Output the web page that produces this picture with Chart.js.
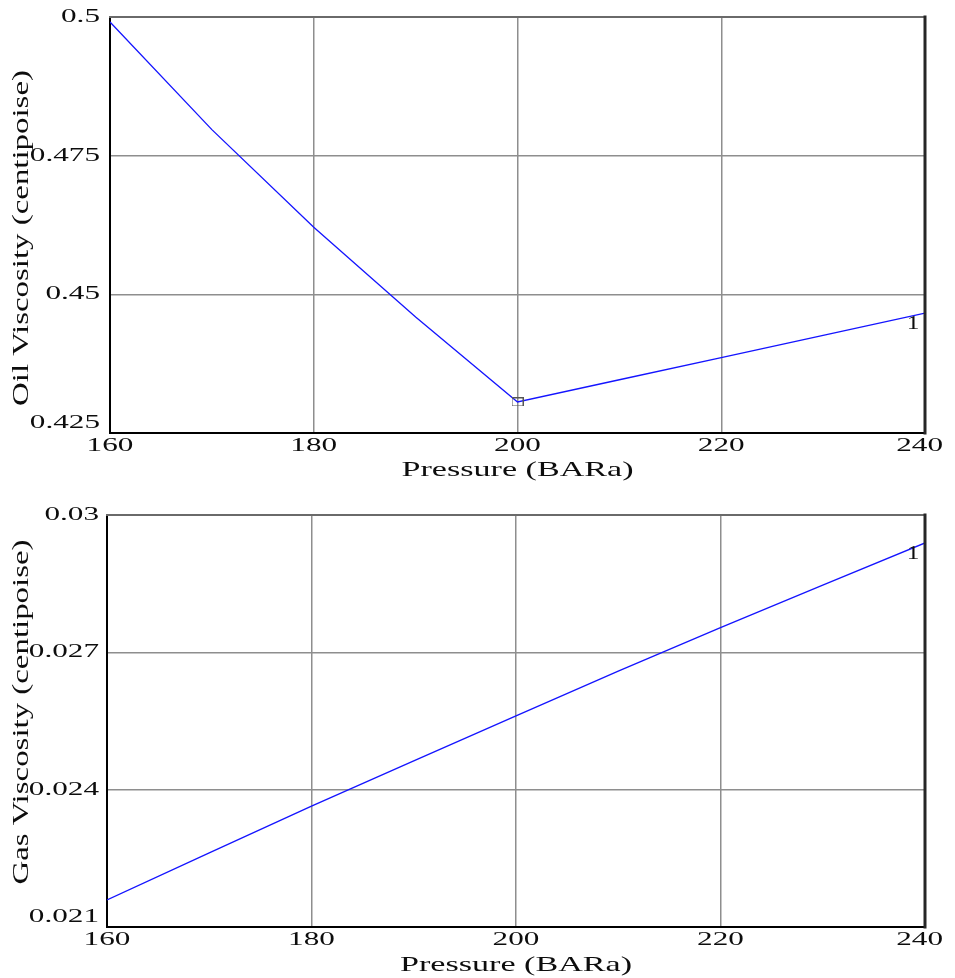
<!DOCTYPE html>
<html>
<head>
<meta charset="utf-8">
<title>Oil and gas viscosity vs pressure</title>
<script src="https://cdn.jsdelivr.net/npm/chart.js@4"></script>
<style>
  html, body { margin: 0; padding: 0; background: #ffffff; }
  .panel { position: relative; width: 955px; }
  #oilPanel { height: 490px; }
  #gasPanel { height: 488px; }
  canvas { display: block; }
</style>
</head>
<body>
<div class="panel" id="oilPanel"><canvas id="oilChart"></canvas></div>
<div class="panel" id="gasPanel"><canvas id="gasChart"></canvas></div>
<script>
// Pressure sweep (BARa)
const pressure = [160, 170, 180, 190, 200, 210, 220, 230, 240];
// Oil viscosity (cP) at each pressure
const oilViscosity = [0.4991, 0.4797, 0.4621, 0.4459, 0.4306, 0.4346, 0.4386, 0.4426, 0.4466];
// Gas viscosity (cP) at each pressure
const gasViscosity = [0.02159, 0.02262, 0.02364, 0.02463, 0.02561, 0.02659, 0.02754, 0.02847, 0.02939];

// Axis ticks
const pressureTicks = [160, 180, 200, 220, 240];
const pressureTickLabels = ['160', '180', '200', '220', '240'];
const oilTicks = [0.425, 0.45, 0.475, 0.5];
const oilTickLabels = ['0.425', '0.45', '0.475', '0.5'];
const gasTicks = [0.021, 0.024, 0.027, 0.03];
const gasTickLabels = ['0.021', '0.024', '0.027', '0.03'];

// Bubble-point marker on the oil curve, and the curve tag
const markerPressure = 200;
const curveTag = '1';

const SERIF = '"Liberation Serif", "Times New Roman", serif';
const GRID = '#8e8e8e';
const LINE_BLUE = '#1414ff';

// small open square used as the point marker
function makeSquare() {
  const c = document.createElement('canvas');
  c.width = 12; c.height = 9;
  const g = c.getContext('2d');
  g.strokeStyle = '#555555';
  g.lineWidth = 1;
  g.strokeRect(0.5, 0.5, 11, 8);
  return c;
}
const squareMarker = makeSquare();

// wide-set text: glyphs widened along the baseline
function wideText(ctx, str, x, y, size, widen, align, rotate) {
  ctx.save();
  ctx.translate(x, y);
  if (rotate) ctx.rotate(-Math.PI / 2);
  ctx.scale(widen, 1);
  ctx.font = size + 'px ' + SERIF;
  ctx.textAlign = align;
  ctx.textBaseline = 'middle';
  ctx.fillText(str, 0, 0);
  ctx.restore();
}

function wideWidth(ctx, str, size, widen) {
  ctx.save();
  ctx.font = size + 'px ' + SERIF;
  const w = ctx.measureText(str).width * widen;
  ctx.restore();
  return w;
}

// Draws tick labels, axis titles, the plot frame and the curve tag
const annotate = {
  id: 'annotate',
  afterDraw(chart, args, o) {
    const ctx = chart.ctx;
    const a = chart.chartArea;
    const xs = chart.scales.x, ys = chart.scales.y;
    ctx.save();

    // frame: grey top edge, dark right edge
    ctx.lineCap = 'square';
    ctx.strokeStyle = '#6a6a6a';
    ctx.lineWidth = 2;
    ctx.beginPath(); ctx.moveTo(a.left, a.top); ctx.lineTo(a.right, a.top); ctx.stroke();
    ctx.strokeStyle = '#262626';
    ctx.lineWidth = 3;
    ctx.beginPath(); ctx.moveTo(a.right, a.top); ctx.lineTo(a.right, a.bottom); ctx.stroke();

    ctx.fillStyle = '#0d0d0d';

    // y tick labels
    o.yTicks.forEach((v, i) => {
      let y = ys.getPixelForValue(v);
      if (i === 0) y -= o.bottomLift;
      wideText(ctx, o.yLabels[i], o.yLabelRight, y, o.tickSize, o.widen, 'right');
    });

    // x tick labels, kept inside the right margin
    pressureTicks.forEach((v, i) => {
      let x = xs.getPixelForValue(v);
      const half = wideWidth(ctx, pressureTickLabels[i], o.tickSize, o.widen) / 2;
      x = Math.min(x, chart.width - o.edgeMargin - half);
      wideText(ctx, pressureTickLabels[i], x, a.bottom + o.xLabelGap, o.tickSize, o.widen, 'center');
    });

    // axis titles
    wideText(ctx, o.xTitle, (a.left + a.right) / 2, a.bottom + o.xTitleGap, o.xTitleSize, o.xTitleWiden, 'center');
    wideText(ctx, o.yTitle, o.yTitleX, o.yTitleY, o.yTitleSize, o.yTitleWiden, 'center', true);

    // curve tag next to the last point
    const meta = chart.getDatasetMeta(0);
    const last = meta.data[meta.data.length - 1];
    wideText(ctx, curveTag, last.x - 12, last.y + 11, o.tickSize, 1.3, 'center');

    ctx.restore();
  }
};

function buildChart(id, values, yMin, yMax, yTicks, dims, text) {
  const markerIndex = pressure.indexOf(markerPressure);
  return new Chart(document.getElementById(id), {
    type: 'line',
    data: {
      datasets: [{
        data: pressure.map((p, i) => ({ x: p, y: values[i] })),
        borderColor: LINE_BLUE,
        borderWidth: 1.3,
        tension: 0,
        fill: false,
        pointRadius: ctx => (text.marker && ctx.dataIndex === markerIndex) ? 5 : 0,
        pointStyle: ctx => (text.marker && ctx.dataIndex === markerIndex) ? squareMarker : 'circle',
        pointHoverRadius: 0
      }]
    },
    options: {
      responsive: true,
      maintainAspectRatio: false,
      animation: false,
      events: [],
      layout: { autoPadding: false, padding: { top: dims.top, right: dims.right, left: 0, bottom: 0 } },
      plugins: { legend: { display: false }, tooltip: { enabled: false }, annotate: text },
      scales: {
        x: {
          type: 'linear', min: 160, max: 240,
          afterBuildTicks: s => { s.ticks = pressureTicks.map(v => ({ value: v })); },
          afterFit: s => { s.height = dims.xHeight; },
          ticks: { display: false },
          grid: { color: GRID, lineWidth: 1.5, drawTicks: false },
          border: { color: '#000000', width: 2 }
        },
        y: {
          type: 'linear', min: yMin, max: yMax,
          afterBuildTicks: s => { s.ticks = yTicks.map(v => ({ value: v })); },
          afterFit: s => { s.width = dims.yWidth; },
          ticks: { display: false },
          grid: { color: GRID, lineWidth: 1.5, drawTicks: false },
          border: { color: '#000000', width: 2 }
        }
      }
    },
    plugins: [annotate]
  });
}

const textStyle = {
  tickSize: 19.5, widen: 1.6,
  xTitleSize: 22, xTitleWiden: 1.55,
  yTitleSize: 24, yTitleWiden: 1.37,
  bottomLift: 10, xLabelGap: 13, edgeMargin: 12
};

buildChart('oilChart', oilViscosity, 0.425, 0.5, oilTicks,
  { top: 17, right: 30, xHeight: 57, yWidth: 110 },
  Object.assign({}, textStyle, {
    marker: true, yTicks: oilTicks, yLabels: oilTickLabels,
    yLabelRight: 100, xTitleGap: 37,
    xTitle: 'Pressure (BARa)', yTitle: 'Oil Viscosity (centipoise)', yTitleX: 22, yTitleY: 238 }));

buildChart('gasChart', gasViscosity, 0.021, 0.03, gasTicks,
  { top: 25, right: 30, xHeight: 51, yWidth: 107 },
  Object.assign({}, textStyle, {
    marker: false, yTicks: gasTicks, yLabels: gasTickLabels,
    yLabelRight: 99, xTitleGap: 38,
    xTitle: 'Pressure (BARa)', yTitle: 'Gas Viscosity (centipoise)', yTitleX: 22, yTitleY: 222 }));
</script>
</body>
</html>
